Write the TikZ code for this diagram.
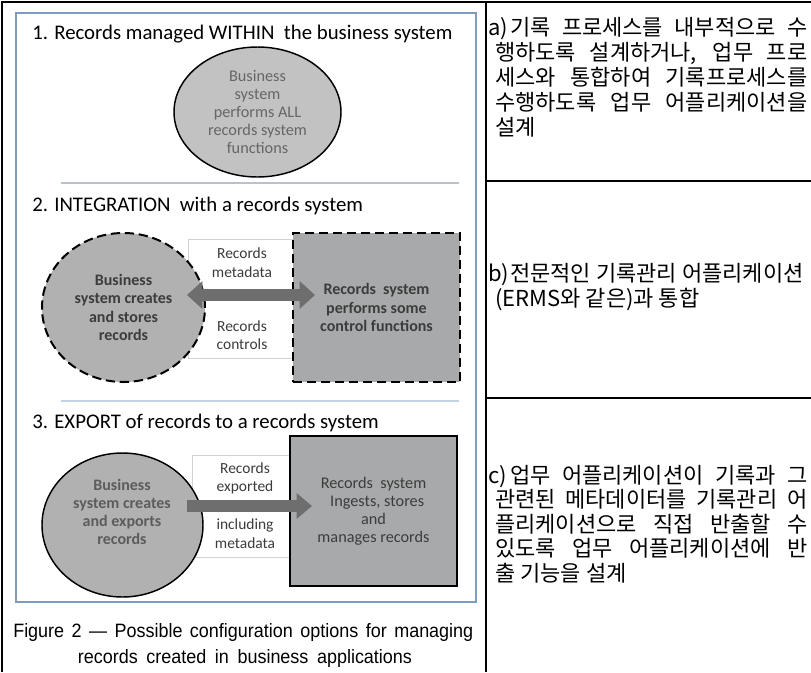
\documentclass[tikz,border=0pt]{standalone}
\usepackage{fontspec}
\usepackage{graphicx}
\setmainfont{Carlito}
\newfontfamily\kofont{Noto Sans CJK KR}
\newfontfamily\capfont{Liberation Sans}
\usetikzlibrary{shapes.geometric,arrows.meta}

\definecolor{frameblue}{HTML}{7F9CBE}
\definecolor{rulegrey}{HTML}{B7C2CE}
\definecolor{rulegreyb}{HTML}{C4D3E2}
\definecolor{fillone}{HTML}{C2C2C2}
\definecolor{filltwo}{HTML}{B1B1B1}
\definecolor{fillthree}{HTML}{A8A9AA}
\definecolor{arrowgrey}{HTML}{6E6E6E}
\definecolor{txtdark}{HTML}{3C3C3C}
\definecolor{txtmid}{HTML}{5C5C5C}
\definecolor{txtsoft}{HTML}{666666}
\definecolor{boxedge}{HTML}{D2D2D2}

% justified lines of the right-hand column
\newlength{\firstw}\setlength{\firstw}{222.75pt}
\newlength{\restw}\setlength{\restw}{234pt}
\newcommand{\jfirst}[1]{\makebox[\firstw][s]{#1}}
\newcommand{\jrest}[1]{\makebox[\restw][s]{#1}}
% caption set in a slightly condensed sans
\newcommand{\capscale}{0.93}

\tikzset{
  sectitle/.style={anchor=base west, inner sep=0, font=\fontsize{15.6}{18}\selectfont},
  shapetext/.style={align=center, font=\fontsize{12.2}{13.5}\selectfont},
  boldtext/.style={align=center, text=txtdark, font=\bfseries\fontsize{12}{13.6}\selectfont},
  lbl/.style={align=center, text=txtdark, inner sep=0, font=\fontsize{11.6}{13.8}\selectfont},
  labelbox/.style={draw=boxedge, fill=white, line width=0.6pt, inner sep=0},
  dashedge/.style={draw=black, line width=1.5pt, dash pattern=on 7pt off 3.5pt},
  fatarrow/.style={draw=arrowgrey, line width=9.5pt},
  kline/.style={anchor=base west, inner sep=0, font=\kofont\fontsize{16.5}{20}\selectfont},
  capline/.style={anchor=base west, inner sep=0, font=\capfont\fontsize{14.5}{17}\selectfont},
}

\begin{document}
\begin{tikzpicture}[x=0.75pt,y=-0.75pt]
\useasboundingbox (0,0) rectangle (811,672);
\fill[white] (0,0) rectangle (811,672);

% table rules
\draw[line width=0.9pt] (2,672) -- (2,2) -- (811,2);
\draw[line width=0.9pt] (486,2) -- (486,672);
\draw[line width=0.9pt] (486,181) -- (811,181);
\draw[line width=0.9pt] (486,398) -- (811,398);

% figure frame
\draw[frameblue, line width=1.5pt] (16,13) rectangle (476,602);

% ---- 1. within
\node[sectitle] (t1) at (32,39.5) {1. Records managed WITHIN\ \ the business system};
\node[ellipse, draw=black, line width=1.1pt, fill=fillone, inner sep=0,
      minimum width=125.25pt, minimum height=97.5pt, text=txtsoft, shapetext]
      (bs1) at (257.5,112) {Business\\system\\performs ALL\\records system\\functions};
\draw[rulegrey, line width=1.2pt] (61,183) -- (459,183);

% ---- 2. integration
\node[sectitle] (t2) at (32,211.5) {2. INTEGRATION\ \ with a records system};
\node[labelbox, minimum width=78.75pt, minimum height=89.25pt] (box2) at (240.5,298.5) {};
\node[ellipse, dashedge, fill=filltwo, inner sep=0,
      minimum width=122.25pt, minimum height=111.75pt, boldtext]
      (bs2) at (123.5,307.5) {Business\\system creates\\and stores\\records};
\node[rectangle, dashedge, fill=fillthree, inner sep=0,
      minimum width=125.25pt, minimum height=111.75pt, boldtext]
      (rs2) at (376.5,307.5) {Records\ \ system\\performs some\\control functions};
\node[lbl] (l2a) at (242,262.5) {Records\\metadata};
\node[lbl] (l2b) at (242,335) {Records\\controls};
\coordinate (a2l) at (187,295);
\coordinate (a2r) at (315,295);
\draw[fatarrow, {Triangle[length=11.6pt,width=20.3pt]}-{Triangle[length=11.6pt,width=20.3pt]}] (a2l) -- (a2r);
\draw[rulegreyb, line width=1.2pt] (61,401) -- (459,401);

% ---- 3. export
\node[sectitle] (t3) at (32,428) {3. EXPORT of records to a records system};
\node[labelbox, minimum width=79.5pt, minimum height=76.5pt] (box3) at (245,506) {};
\node[ellipse, draw=black, line width=1.1pt, fill=filltwo, inner sep=0,
      minimum width=120.75pt, minimum height=108pt] (bs3) at (122.5,525) {};
\node[lbl, text=txtmid, font=\bfseries\fontsize{12}{13.6}\selectfont] (bs3t) at (122,512)
      {Business\\system creates\\and exports\\records};
\node[rectangle, draw=black, line width=1.5pt, fill=fillthree, inner sep=0,
      minimum width=125.25pt, minimum height=112.5pt, shapetext, text=txtdark]
      (rs3) at (373.5,511) {Records\ \ system\\\ \ Ingests, stores\\and\\manages records};
\node[lbl] (l3a) at (245,478.5) {Records\\exported};
\node[lbl] (l3b) at (245,533.5) {including\\metadata};
\coordinate (a3l) at (187,506);
\coordinate (a3r) at (312,506);
\draw[fatarrow, line width=8.5pt, -{Triangle[length=11.5pt,width=18.6pt]}] (a3l) -- (a3r);

% ---- caption
\node[capline] (cap1) at (13,637)
  {\scalebox{\capscale}[1]{\makebox[371pt][s]{Figure 2 — Possible configuration options for managing}}};
\node[capline, anchor=base] (cap2) at (245,663)
  {\scalebox{\capscale}[1]{\makebox[269.4pt][s]{records created in business applications}}};

% ---- right column a)
\node[kline] (pa) at (488,35) {a)};
\node[kline] (a1) at (510,35) {\jfirst{기록 프로세스를 내부적으로 수}};
\node[kline] (a2) at (495,60) {\jrest{행하도록 설계하거나, 업무 프로}};
\node[kline] (a3) at (495,85) {\jrest{세스와 통합하여 기록프로세스를}};
\node[kline] (a4) at (495,110) {\jrest{수행하도록 업무 어플리케이션을}};
\node[kline] (a5) at (495,135) {설계};

% ---- right column b)
\node[kline] (pb) at (488,281) {b)};
\node[kline] (b1) at (510,281) {전문적인 기록관리 어플리케이션};
\node[kline] (b2) at (495,306) {(ERMS와 같은)과 통합};

% ---- right column c)
\node[kline] (pc) at (488,483) {c)};
\node[kline] (c1) at (510,483) {\jfirst{업무 어플리케이션이 기록과 그}};
\node[kline] (c2) at (495,507.5) {\jrest{관련된 메타데이터를 기록관리 어}};
\node[kline] (c3) at (495,532) {\jrest{플리케이션으로 직접 반출할 수}};
\node[kline] (c4) at (495,556.5) {\jrest{있도록 업무 어플리케이션에 반}};
\node[kline] (c5) at (495,581) {출 기능을 설계};
\end{tikzpicture}
\end{document}
